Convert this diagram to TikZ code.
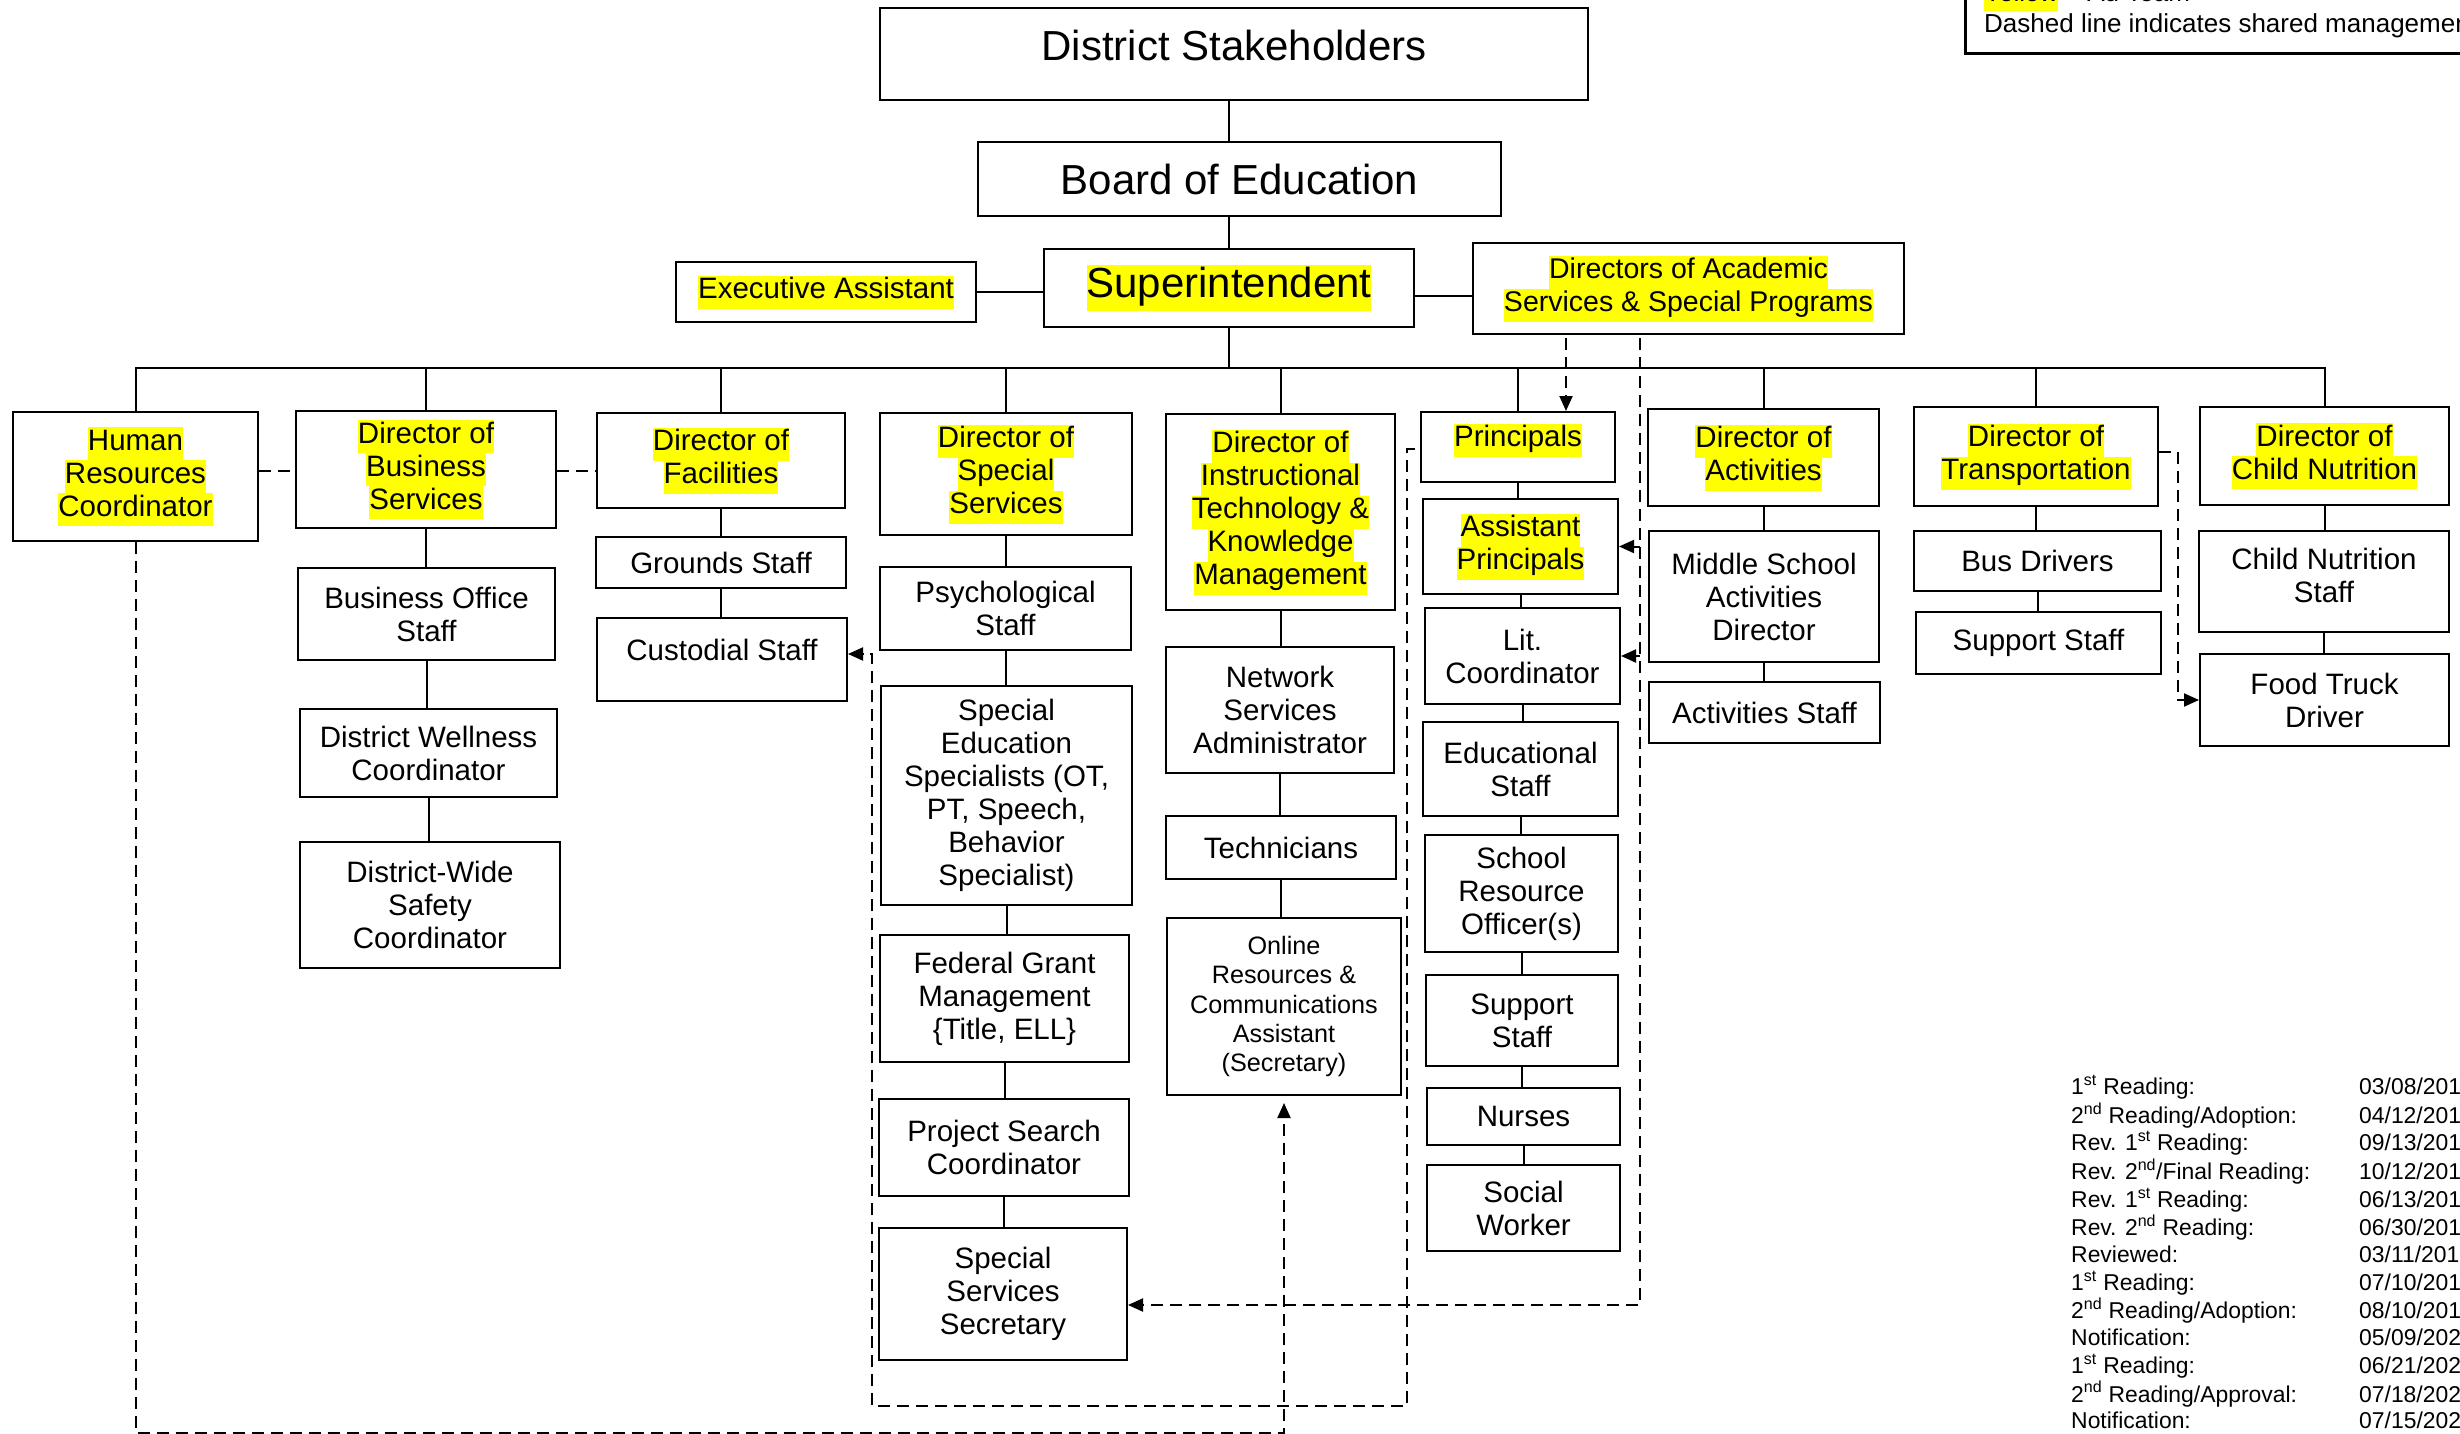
\documentclass[tikz,border=0pt]{standalone}
\usepackage{fontspec}
\setmainfont{Liberation Sans}
\usetikzlibrary{arrows.meta}
\definecolor{hly}{RGB}{255,255,0}
\newcommand\hl[1]{{\setlength{\fboxsep}{0pt}\colorbox{hly}{\strut #1}}}
\newcommand\nfnt{\fontsize{29.5}{33}\selectfont}
\newcommand\Bigfnt{\fontsize{42}{46}\selectfont}
\newcommand\smfnt{\fontsize{25.2}{29.4}\selectfont}
\newcommand\datefnt{\fontsize{22.9}{26.9}\selectfont}
\newcommand\legfnt{\fontsize{26}{31}\selectfont}
\newcommand\upr[2]{\raisebox{#1}[\height][\depth]{#2}}
\newcommand\bx[6][]{\node[box,minimum width={#4-#2},minimum height={#5-#3},#1] (#2x) at ({(#3+#5)/2},{(#4+#6)/2}) {};}
\newcommand\bn[7][]{\node[box,minimum width={#5-#3},minimum height={#6-#4},#1] (#2) at ({(#3+#5)/2},{(#4+#6)/2}) {#7};}
\begin{document}
\begin{tikzpicture}[x=1pt,y=-1pt,
  box/.style={draw,line width=2pt,inner sep=0pt,align=center,font=\nfnt},
  con/.style={line width=2pt},
  dsh/.style={line width=2pt,dash pattern=on 12pt off 7pt},
  tip/.style={-{Triangle[length=15pt,width=13pt]}}]
\useasboundingbox (0,0) rectangle (2460,1434);
% top
\bn[font=\Bigfnt]{ds}{880}{8}{1588}{100}{\upr{9pt}{District Stakeholders}}
\bn[font=\Bigfnt]{bo}{978}{142}{1501}{216}{Board of Education}
\bn[font=\Bigfnt]{sup}{1044}{249}{1414}{327}{\hl{Superintendent}}
\bn{ea}{676}{262}{976}{322}{\hl{Executive Assistant}}
\bn[font=\fontsize{28.5}{33}\selectfont]{dasp}{1473}{243}{1904}{334}{\hl{Directors of Academic}\\\hl{Services \& Special Programs}}
% directors
\bn{hr}{13}{412}{258}{541}{\hl{Human}\\\hl{Resources}\\\hl{Coordinator}}
\bn{bus}{296}{411}{556}{528}{\hl{Director of}\\\hl{Business}\\\hl{Services}}
\bn{fac}{597}{413}{845}{508}{\hl{Director of}\\\hl{Facilities}}
\bn{spc}{880}{413}{1132}{535}{\hl{Director of}\\\hl{Special}\\\hl{Services}}
\bn{it}{1166}{414}{1395}{610}{\hl{Director of}\\\hl{Instructional}\\\hl{Technology \&}\\\hl{Knowledge}\\\hl{Management}}
\bn{pri}{1421}{412}{1615}{482}{\upr{7pt}{\hl{Principals}}}
\bn{act}{1648}{409}{1879}{506}{\hl{Director of}\\\hl{Activities}}
\bn{trn}{1914}{407}{2158}{506}{\hl{Director of}\\\hl{Transportation}}
\bn{cn}{2200}{407}{2449}{505}{\hl{Director of}\\\hl{Child Nutrition}}
% business column
\bn{bos}{298}{568}{555}{660}{Business Office\\Staff}
\bn{dwc}{300}{709}{557}{797}{District Wellness\\Coordinator}
\bn{dws}{300}{842}{560}{968}{District-Wide\\Safety\\Coordinator}
% facilities column
\bn{grd}{596}{537}{846}{588}{Grounds Staff}
\bn{cus}{597}{618}{847}{701}{\upr{10pt}{Custodial Staff}}
% special services column
\bn{psy}{880}{567}{1131}{650}{Psychological\\Staff}
\bn{sed}{881}{686}{1132}{905}{Special\\Education\\Specialists (OT,\\PT, Speech,\\Behavior\\Specialist)}
\bn{fed}{880}{935}{1129}{1062}{Federal Grant\\Management\\\{Title, ELL\}}
\bn{prj}{879}{1099}{1129}{1196}{Project Search\\Coordinator}
\bn{sss}{879}{1228}{1127}{1360}{Special\\Services\\Secretary}
% IT column
\bn{net}{1166}{647}{1394}{773}{Network\\Services\\Administrator}
\bn{tec}{1166}{816}{1396}{879}{Technicians}
\bn[font=\smfnt]{onl}{1167}{918}{1401}{1095}{Online\\Resources \&\\Communications\\Assistant\\(Secretary)}
% principals column
\bn{ap}{1423}{499}{1618}{594}{\hl{Assistant}\\\hl{Principals}}
\bn{lit}{1425}{608}{1620}{704}{Lit.\\Coordinator}
\bn{eds}{1423}{722}{1618}{816}{Educational\\Staff}
\bn{sro}{1425}{835}{1618}{952}{School\\Resource\\Officer(s)}
\bn{sstf}{1426}{975}{1618}{1066}{Support\\Staff}
\bn{nur}{1427}{1088}{1620}{1145}{Nurses}
\bn{soc}{1427}{1165}{1620}{1251}{Social\\Worker}
% activities column
\bn{msa}{1649}{531}{1879}{662}{Middle School\\Activities\\Director}
\bn{acs}{1649}{682}{1880}{743}{Activities Staff}
% transportation column
\bn{bd}{1914}{531}{2161}{591}{Bus Drivers}
\bn{tss}{1916}{612}{2161}{674}{Support Staff}
% child nutrition column
\bn{cns}{2199}{531}{2449}{632}{\upr{6pt}{Child Nutrition}\\\upr{6pt}{Staff}}
\bn{ftd}{2200}{654}{2449}{746}{Food Truck\\Driver}
% helper coordinates
\coordinate (cx) at (1229,0);
\coordinate (hbar) at (0,368);
\coordinate (y296) at (0,296);
\coordinate (y471) at (0,471);
\coordinate (yB) at (0,1433);
\coordinate (xL) at (1407,0);
\coordinate (xM) at (872,0);
\coordinate (y449) at (0,449);
\coordinate (y1406) at (0,1406);
\coordinate (y654) at (0,654);
\coordinate (xA) at (1566,0);
\coordinate (xB) at (1640,0);
\coordinate (y1305) at (0,1305);
\coordinate (xT) at (2178,0);
\coordinate (y452) at (0,452);
% solid connectors
\draw[con] (ds.south -| cx) -- (bo.north -| cx);
\draw[con] (bo.south -| cx) -- (sup.north -| cx);
\draw[con] (sup.south -| cx) -- (hbar -| cx);
\draw[con] (ea.east) -- (ea.east -| sup.west);
\draw[con] (sup.east |- y296) -- (dasp.west |- y296);
\draw[con] (hr.north) -- (hr.north |- hbar) -- (cn.north |- hbar) -- (cn.north);
\foreach \n in {bus,fac,spc,it,pri,act,trn} \draw[con] (\n.north) -- (\n.north |- hbar);
\foreach \a/\b in {bus/bos,bos/dwc,dwc/dws,fac/grd,grd/cus,spc/psy,psy/sed,sed/fed,fed/prj,prj/sss,it/net,net/tec,tec/onl,pri/ap,ap/lit,lit/eds,eds/sro,sro/sstf,sstf/nur,nur/soc,act/msa,msa/acs,trn/bd,bd/tss,cn/cns,cns/ftd}
  \draw[con] (\a.south) -- (\a.south |- \b.north);
% dashed connectors
\draw[dsh] (hr.east |- y471) -- (bus.west |- y471);
\draw[dsh] (bus.east |- y471) -- (fac.west |- y471);
\draw[dsh,tip,shorten >=7pt] (hr.south) -- (hr.south |- yB) -- (onl.south |- yB) -- (onl.south);
\draw[dsh,tip,shorten <=5pt] (pri.west |- y449) -- (xL |- y449) -- (xL |- y1406) -- (xM |- y1406) -- (xM |- y654) -- (cus.east |- y654);
\draw[dsh,tip,shorten <=3pt] (dasp.south -| xA) -- (pri.north -| xA);
\draw[dsh,tip,shorten <=3pt] (dasp.south -| xB) -- (xB |- y1305) -- (sss.east |- y1305);
\draw[dsh,tip] (xB |- ap.east) -- (ap.east);
\draw[dsh,tip] (xB |- lit.east) -- (lit.east);
\draw[dsh,tip] (trn.east |- y452) -- (xT |- y452) -- (xT |- ftd.west) -- (ftd.west);
% legend
\node[draw,line width=2.8pt,minimum width=620,minimum height=120,anchor=south west,inner sep=0pt] (leg) at (1964,55) {};
\node[anchor=base west,font=\legfnt,inner sep=0pt] (leg1) at (1984,2) {\hl{Yellow} – Ad Team};
\node[anchor=base west,font=\legfnt,inner sep=0pt] (leg2) at (1984,33) {Dashed line indicates shared management};
% dates
\node[anchor=north west,inner sep=0pt,font=\datefnt] (dates) at (2071,1075.2) {%
\begin{tabular}{@{}p{288pt}@{}l@{}}
1\textsuperscript{st} Reading: & 03/08/201\\
2\textsuperscript{nd} Reading/Adoption: & 04/12/201\\
Rev. 1\textsuperscript{st} Reading: & 09/13/201\\
Rev. 2\textsuperscript{nd}/Final Reading: & 10/12/201\\
Rev. 1\textsuperscript{st} Reading: & 06/13/201\\
Rev. 2\textsuperscript{nd} Reading: & 06/30/201\\
Reviewed: & 03/11/201\\
1\textsuperscript{st} Reading: & 07/10/201\\
2\textsuperscript{nd} Reading/Adoption: & 08/10/201\\
Notification: & 05/09/202\\
1\textsuperscript{st} Reading: & 06/21/202\\
2\textsuperscript{nd} Reading/Approval: & 07/18/202\\
Notification: & 07/15/202
\end{tabular}};
\end{tikzpicture}
\end{document}
